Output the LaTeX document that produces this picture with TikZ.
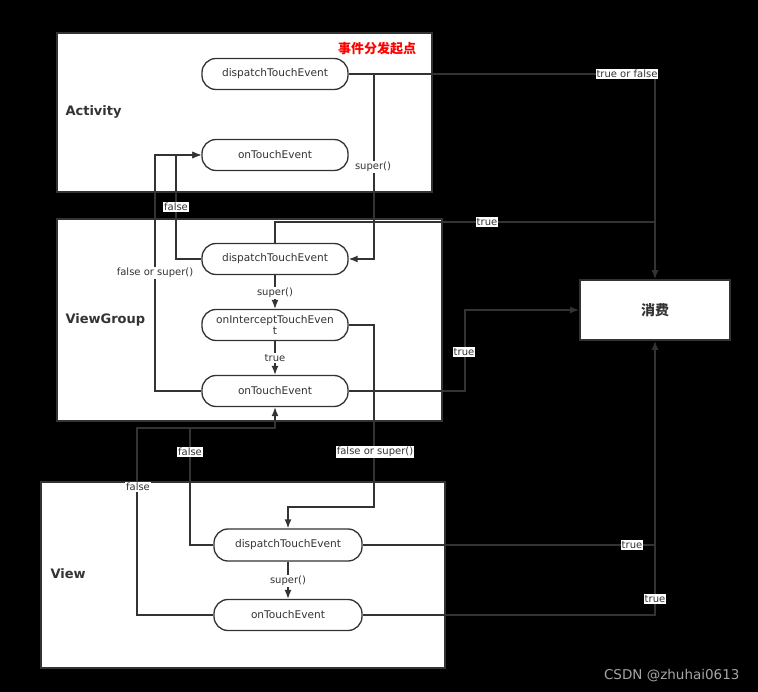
\documentclass[tikz,border=0pt]{standalone}
\usepackage{fontspec}
\setmainfont{DejaVu Sans}
\newfontfamily\cjk{Noto Sans CJK SC}
\usetikzlibrary{arrows.meta}
\definecolor{linegray}{HTML}{333333}
\begin{document}
\begin{tikzpicture}[x=1pt,y=-1pt,>={Latex[length=9pt,width=7pt]}]
        \tikzstyle{layer}=[draw=linegray,line width=1.8pt,fill=white]
        \tikzstyle{method}=[rectangle,rounded corners=14pt,draw=linegray,line width=1.3pt,fill=white,minimum width=146pt,minimum height=31pt,inner sep=2pt,align=center,text=linegray,font=\fontsize{10.6}{11.5}\selectfont]
        \tikzstyle{edge}=[draw=linegray,line width=1.4pt]
        \tikzstyle{tag}=[fill=white,inner sep=1pt,text=linegray,font=\fontsize{10}{11}\selectfont]
        \tikzstyle{title}=[anchor=west,text=linegray,font=\bfseries\fontsize{13}{15}\selectfont]
        \fill[black] (0,0) rectangle (758,692);
        \useasboundingbox (0,0) rectangle (758,692);
       % the three layers
       \draw[layer] (57,33) rectangle (432,192);
       \draw[layer] (57,219) rectangle (442,421);
       \draw[layer] (41,482) rectangle (445,668);
       \node [title] (tact) at (62,112) {Activity};
       \node [title] (tvg) at (62,320) {ViewGroup};
       \node [title] (tview) at (47,574) {View};
       \node [text=red,font=\cjk\bfseries\fontsize{13}{15}\selectfont] (start) at (377,49) {事件分发起点};
       % methods
       \node [method] (ad) at (275,74) {dispatchTouchEvent};
       \node [method] (ao) at (275,155) {onTouchEvent};
       \node [method] (vd) at (275,259) {dispatchTouchEvent};
       \node [method] (vi) at (275,325) {onInterceptTouchEven\\t};
       \node [method] (vo) at (275,391) {onTouchEvent};
       \node [method,minimum width=148pt,minimum height=32pt] (wd) at (288,545) {dispatchTouchEvent};
       \node [method,minimum width=148pt] (wo) at (288,615) {onTouchEvent};
       \node [layer,minimum width=150pt,minimum height=60pt,text=linegray,font=\cjk\bfseries\fontsize{14}{16}\selectfont] (cons) at (655,310) {消费};
       % bend points
       \coordinate (j1) at (374,74);
       \coordinate (c1) at (155,155);
       \coordinate (c2) at (176,155);
       \coordinate (c3) at (655,222);
       \coordinate (c4) at (374,507);
       \coordinate (c5) at (465,310);
       \coordinate (c6) at (190,428);
       \coordinate (c7) at (137,428);
       \coordinate (c8) at (655,545);
       % connectors
       \path[edge,->] (ad.east) -| (cons.north);
       \path[edge,->] (j1) |- (vd.east);
       \path[edge,->] (vo.west) -| (c1) -- (ao.west);
       \path[edge,->] (vd.west) -| (c2) -- (ao.west);
       \path[edge] (vd.north) |- (c3);
       \path[edge,->] (vd) -- (vi);
       \path[edge,->] (vi) -- (vo);
       \path[edge,->] (vi.east) -| (c4) -| (wd.north);
       \path[edge,->] (vo.east) -| (c5) -- (cons.west);
       \path[edge,->] (wd.west) -| (c6) -| (vo.south);
       \path[edge] (wo.west) -| (c7) -- (c6);
       \path[edge,->] (wd) -- (wo);
       \path[edge] (wd.east) -- (c8);
       \path[edge,->] (wo.east) -| (cons.south);
       % labels
       \node [tag] (l1) at (627,74) {true or false};
       \node [tag] (l2) at (373,167) {super()};
       \node [tag] (l3) at (176,207) {false};
       \node [tag] (l4) at (155,273) {false or super()};
       \node [tag] (l5) at (487,222) {true};
       \node [tag] (l6) at (275,293) {super()};
       \node [tag] (l7) at (275,358) {true};
       \node [tag] (l8) at (464,352) {true};
       \node [tag] (l9) at (375,452) {false or super()};
       \node [tag] (l10) at (190,452) {false};
       \node [tag] (l11) at (138,487) {false};
       \node [tag] (l12) at (288,581) {super()};
       \node [tag] (l13) at (632,545) {true};
       \node [tag] (l14) at (655,599) {true};
       \node [anchor=east,text=black!35,font=\fontsize{13.5}{15}\selectfont] (mark) at (743,676) {CSDN @zhuhai0613};
      \end{tikzpicture}
\end{document}
